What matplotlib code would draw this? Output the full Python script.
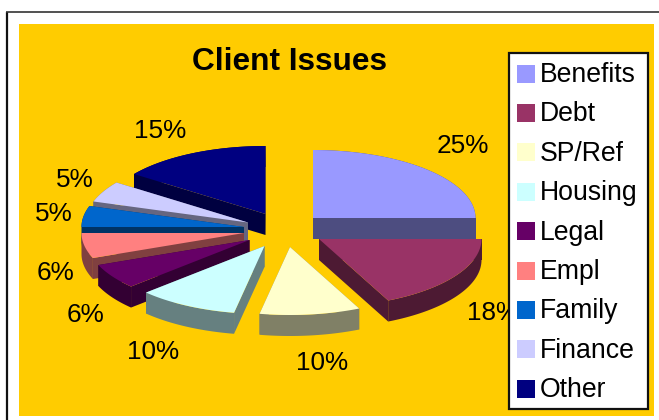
"""Client issues exploded pie, drawn as a tilted 3D-look pie on a pixel-sized axes."""
import matplotlib
matplotlib.use("Agg")
import matplotlib.pyplot as plt
from matplotlib.patches import Polygon, Rectangle
import numpy as np

W, H = 659, 420
GOLD = "#ffcc00"; INK = "#000000"

categories = ["Benefits", "Debt", "SP/Ref", "Housing", "Legal", "Empl", "Family", "Finance", "Other"]
values = [25, 18, 10, 10, 6, 6, 5, 5, 15]
colors = ["#9999ff", "#993366", "#ffffcc", "#ccffff", "#660066", "#ff8080", "#0066cc", "#ccccff", "#000080"]
sides = ["#4d4d80", "#4d1a33", "#808066", "#668080", "#330033", "#804040", "#003366", "#666680", "#000040"]
# wedge tip for each slice, after the explode
tip_x = [313, 319, 290, 264.5, 249.5, 244, 244, 248, 265.5]
tip_y = [218, 239, 247, 246, 240, 233, 227, 222.5, 214]
label_xy = [(463, 146), (493, 313), (322, 363), (153, 352), (85, 315), (56, 273), (54, 214), (75, 180), (160, 131)]

RX, RY, DEPTH = 162.5, 68, 21

plt.rcParams["font.family"] = ["Liberation Sans", "DejaVu Sans"]
fig = plt.figure(figsize=(W / 100, H / 100), dpi=100, facecolor="white")
ax = fig.add_axes([0, 0, 1, 1])
ax.set_xlim(0, W); ax.set_ylim(H, 0); ax.axis("off")

# frame and plot area
ax.plot([7, 7], [H, 12], color="#111111", lw=1.6, solid_capstyle="butt", zorder=1)
ax.plot([6, W], [12, 12], color="#333333", lw=1.2, solid_capstyle="butt", zorder=1)
ax.add_patch(Rectangle((19, 24), 635, 392, fc=GOLD, ec="none", zorder=1))

edges = np.cumsum([0] + values) / sum(values) * 2 * np.pi

def rim(i, n=60):
    th = np.linspace(edges[i], edges[i + 1], n)
    return tip_x[i] + RX * np.sin(th), tip_y[i] - RY * np.cos(th)

# back to front: the slice whose tip sits lowest on the page goes last
order = np.argsort(tip_y)
for z, i in enumerate(order):
    x, y = rim(i)
    zz = 2 + z
    ax.add_patch(Polygon(np.r_[np.c_[x, y], np.c_[x, y + DEPTH][::-1]], fc=sides[i], ec="none", zorder=zz))
    for k in (0, -1):
        quad = [(tip_x[i], tip_y[i]), (x[k], y[k]), (x[k], y[k] + DEPTH), (tip_x[i], tip_y[i] + DEPTH)]
        ax.add_patch(Polygon(quad, fc=sides[i], ec="none", zorder=zz))
    top = np.r_[[(tip_x[i], tip_y[i])], np.c_[x, y]]
    ax.add_patch(Polygon(top, fc=colors[i], ec="none", zorder=zz + 0.5))

for v, (lx, ly) in zip(values, label_xy):
    ax.text(lx, ly, f"{v}%", fontsize=18.8, ha="center", va="center", color=INK, zorder=20)

ax.text(290, 62, "Client Issues", fontsize=22.8, fontweight="bold", ha="center", va="center", color=INK, zorder=20)

# legend box
ax.add_patch(Rectangle((508.5, 52.5), 139, 356, fc="white", ec="#111111", lw=1.6, zorder=30))
for i, name in enumerate(categories):
    cy = 73.5 + i * 39.4
    ax.add_patch(Rectangle((517, cy - 9), 18, 18, fc=colors[i], ec="none", zorder=31))
    ax.text(540, cy + 1.5, name, fontsize=19.2, ha="left", va="center", color=INK, zorder=31)

fig.savefig("out.png", dpi=100)
